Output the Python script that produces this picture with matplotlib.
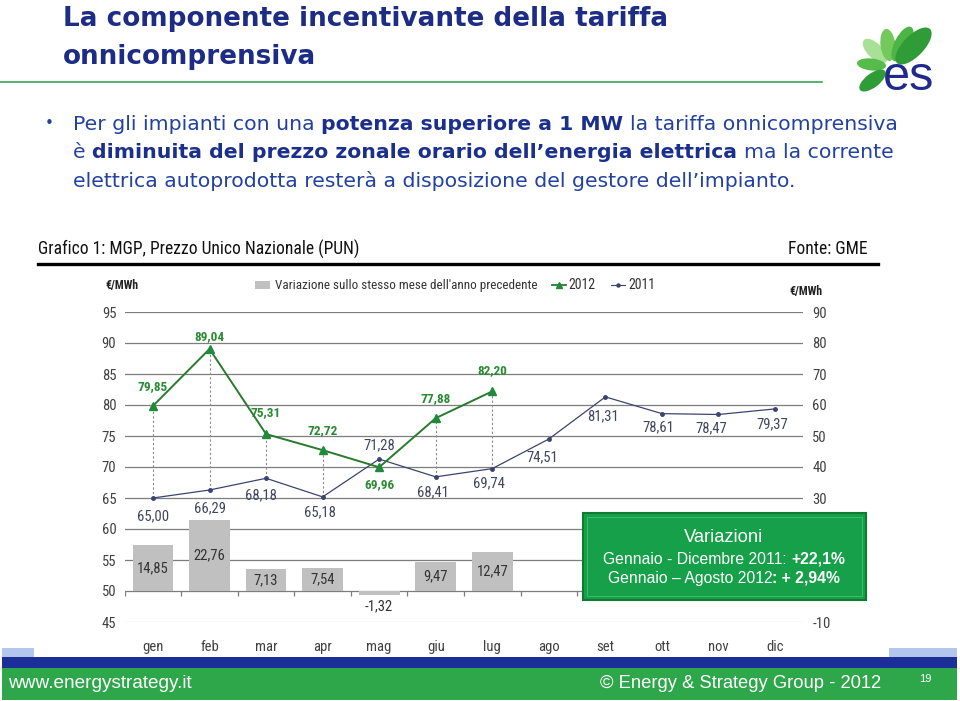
import math
import numpy as np
import matplotlib
matplotlib.use("Agg")
import matplotlib.pyplot as plt
from matplotlib.patches import Rectangle, Ellipse
from matplotlib.lines import Line2D

# ---- data (PUN, euro/MWh) ----
months = ["gen", "feb", "mar", "apr", "mag", "giu", "lug", "ago", "set", "ott", "nov", "dic"]
pun_2012 = [79.85, 89.04, 75.31, 72.72, 69.96, 77.88, 82.20]
pun_2011 = [65.00, 66.29, 68.18, 65.18, 71.28, 68.41, 69.74, 74.51, 81.31, 78.61, 78.47, 79.37]
variazione = [14.85, 22.76, 7.13, 7.54, -1.32, 9.47, 12.47]
left_ticks = list(range(45, 96, 5))
right_ticks = list(range(-10, 91, 10))
right_hidden = [0, 10, 20]  # covered by the summary box on the slide

# label offsets in pixels (dx, dy up)
off_2012 = [(0, 19), (0, 12), (0, 21), (0, 20), (0, -17), (0, 20), (0, 21)]
off_2011 = [(0, -18), (0, -18), (-5, -17), (-3, -15), (0, 14), (-3, -15), (-3, -15),
            (-7, -18), (-2, -19), (-4, -14), (-7, -14), (-3, -15)]

NARROW = ["Liberation Sans Narrow", "Roboto Condensed", "Liberation Sans", "DejaVu Sans"]
SANS = ["Liberation Sans", "DejaVu Sans"]
WIDE = ["DejaVu Sans"]
plt.rcParams["font.family"] = NARROW

W, H = 960, 701
PT = 72 / 100  # points per pixel


def fx(x):
    return x / W


def fy(y):
    return 1 - y / H


def fmt(v):
    return f"{v:.2f}".replace(".", ",")


fig = plt.figure(figsize=(9.6, 7.01), dpi=100)
renderer = fig.canvas.get_renderer()


def text_w(s, size, weight="normal", family=SANS):
    t = fig.text(0, 0, s, family=family, fontsize=size, fontweight=weight)
    w = t.get_window_extent(renderer).width
    t.remove()
    return w


def fit(s, target, weight="normal", family=SANS):
    return 10 * target / text_w(s, 10, weight, family)


# ---- header ----
title_col = "#1d2c84"
ts = fit("La componente incentivante della tariffa", 604, "bold", WIDE)
fig.text(fx(63), fy(19), "La componente incentivante della tariffa", family=WIDE,
         fontsize=ts, fontweight="bold", color=title_col, va="center")
fig.text(fx(63), fy(57), "onnicomprensiva", family=WIDE,
         fontsize=ts, fontweight="bold", color=title_col, va="center")
fig.add_artist(Line2D([fx(0), fx(822)], [fy(82), fy(82)], color="#3aa655", lw=1.2))

# logo
lax = fig.add_axes([fx(852), fy(100), 95 / W, 78 / H])
lax.set_xlim(852, 947)
lax.set_ylim(100, 22)
lax.axis("off")
leaves = [((886, 62), (864, 40), 15, "#a8e096"),
          ((890, 61), (886, 29), 15, "#74c95c"),
          ((894, 61), (911, 27), 16, "#4db446"),
          ((897, 63), (930, 29), 21, "#2f9c38"),
          ((886, 66), (857, 63), 12, "#55bb4a"),
          ((885, 71), (860, 90), 14, "#2f9c38")]
for (x0, y0), (x1, y1), th, c in leaves:
    ln = math.hypot(x1 - x0, y1 - y0)
    ang = math.degrees(math.atan2(y1 - y0, x1 - x0))
    lax.add_patch(Ellipse(((x0 + x1) / 2, (y0 + y1) / 2), ln, th, angle=ang, color=c, lw=0))
fig.text(fx(909), fy(78), "es", family=SANS, fontsize=35, color="#1f2a8c",
         ha="center", va="center", zorder=5)

# bullet text
body_col = "#2342a0"
bold_col = "#1b2f8c"
line1 = [("Per gli impianti con una", False), ("potenza superiore a 1 MW", True),
         ("la tariffa onnicomprensiva", False)]
line2 = [("è", False), ("diminuita del prezzo zonale orario dell\u2019energia elettrica", True),
         ("ma la corrente", False)]
line3 = [("elettrica autoprodotta resterà a disposizione del gestore dell\u2019impianto.", False)]


def rich_width(parts, size, family):
    sn = text_w("a a", size, "normal", family) - text_w("aa", size, "normal", family)
    sb = text_w("a a", size, "bold", family) - text_w("aa", size, "bold", family)
    total = 0
    gaps = []
    for s, bold in parts:
        total += text_w(s, size, "bold" if bold else "normal", family)
        gaps.append(sb if bold else sn)
    return total + sum(gaps[:-1]), gaps


def rich_line(x, y, parts, size, family, c_n, c_b, zorder=3, gaps=None):
    if gaps is None:
        gaps = rich_width(parts, size, family)[1]
    for (s, bold), g in zip(parts, gaps):
        wt = "bold" if bold else "normal"
        t = fig.text(fx(x), fy(y), s, family=family, fontsize=size, fontweight=wt,
                     color=c_b if bold else c_n, va="center", zorder=zorder)
        x += t.get_window_extent(renderer).width + g


bs = 10 * 822 / rich_width(line1, 10, WIDE)[0]
fig.text(fx(45), fy(123), "\u2022", family=WIDE, fontsize=11, color=body_col, va="center")
rich_line(73, 124, line1, bs, WIDE, body_col, bold_col)
rich_line(73, 152, line2, bs, WIDE, body_col, bold_col)
rich_line(73, 181, line3, bs, WIDE, body_col, bold_col)

# ---- chart frame ----
cs = fit("Grafico 1: MGP, Prezzo Unico Nazionale (PUN)", 320, family=NARROW)
fig.text(fx(38), fy(249), "Grafico 1: MGP, Prezzo Unico Nazionale (PUN)", fontsize=cs,
         color="#111111", va="center")
fig.text(fx(868), fy(249), "Fonte: GME", fontsize=cs, color="#111111", va="center", ha="right")
fig.add_artist(Line2D([fx(38), fx(878)], [fy(264), fy(264)], color="black", lw=2.4))

# legend
legend_txt = "Variazione sullo stesso mese dell'anno precedente"
fig.add_artist(Rectangle((fx(255), fy(289)), 15 / W, 8 / H, color="#c0c0c0", lw=0))
fig.text(fx(275), fy(285), legend_txt, fontsize=fit(legend_txt, 260, family=NARROW),
         color="#333333", va="center")
fig.add_artist(Line2D([fx(552), fx(566)], [fy(285), fy(285)], color="#2a7a2e", lw=1.3))
fig.add_artist(Line2D([fx(559)], [fy(285)], color="#1f8a3a", marker="^", ms=5, lw=0))
fig.text(fx(568), fy(285), "2012", fontsize=10, color="#333333", va="center")
fig.add_artist(Line2D([fx(611), fx(625)], [fy(285), fy(285)], color="#3b4470", lw=0.8))
fig.add_artist(Line2D([fx(618)], [fy(285)], color="#3b4470", marker="o", ms=2.2, lw=0))
fig.text(fx(628), fy(285), "2011", fontsize=10, color="#333333", va="center")
fig.text(fx(105), fy(286), "\u20ac/MWh", fontsize=8.5, fontweight="bold", color="#222222", va="center")
fig.text(fx(789), fy(292), "\u20ac/MWh", fontsize=8.5, fontweight="bold", color="#222222", va="center")

# ---- chart ----
x = np.arange(len(months))
n12 = len(pun_2012)
ax = fig.add_axes([fx(124.7), fy(622), (803.3 - 124.7) / W, 310 / H])
ax2 = ax.twinx()
ax.set_zorder(ax2.get_zorder() + 1)
ax.patch.set_visible(False)

ax.set_xlim(-0.5, 11.5)
ax.set_ylim(45, 95)
ax2.set_ylim(-10, 90)

ax2.bar(x[:n12], variazione, width=0.72, color="#c0c0c0", zorder=2)
ax2.set_yticks(right_ticks, ["" if t in right_hidden else str(t) for t in right_ticks])
ax2.yaxis.grid(True, color="#7d7d7d", lw=0.9)
ax2.get_ygridlines()[0].set_color("#c8c8c8")
ax2.set_axisbelow(True)
ax2.vlines(np.arange(-0.5, 12, 1), -1.6, 0, color="#7d7d7d", lw=0.9, zorder=1)

for i, v in enumerate(variazione):
    if v >= 0:
        ax2.text(x[i], v / 2, fmt(v), ha="center", va="center", fontsize=10.5, color="#333333")
    else:
        ax2.annotate(fmt(v), (x[i], v), xytext=(0, -11 * PT), textcoords="offset points",
                     ha="center", va="center", fontsize=10.5, color="#333333")

ax.vlines(x[:n12], pun_2011[:n12], pun_2012, colors="#8a8a8a", linestyles=(0, (2, 2)),
          lw=0.8, zorder=1)
ax.plot(x, pun_2011, color="#3b4470", lw=0.9, marker="o", ms=2.5, zorder=3)
ax.plot(x[:n12], pun_2012, color="#2a7a2e", lw=1.4, marker="^", ms=6,
        mfc="#1f8a3a", mec="#1f8a3a", zorder=4)

for i, v in enumerate(pun_2012):
    dx, dy = off_2012[i]
    ax.annotate(fmt(v), (x[i], v), xytext=(dx * PT, dy * PT), textcoords="offset points",
                ha="center", va="center", fontsize=9.5, fontweight="bold", color="#2a8a34")
for i, v in enumerate(pun_2011):
    dx, dy = off_2011[i]
    ax.annotate(fmt(v), (x[i], v), xytext=(dx * PT, dy * PT), textcoords="offset points",
                ha="center", va="center", fontsize=10.5, color="#3f4560")

ax.set_yticks(left_ticks)
ax.set_xticks(x, months)
ax.tick_params(axis="y", length=0, pad=6, labelsize=10.5, labelcolor="#404040")
ax.tick_params(axis="x", length=0, pad=13, labelsize=10.5, labelcolor="#404040")
ax2.tick_params(axis="y", length=0, pad=6.5, labelsize=10.5, labelcolor="#404040")
for a in (ax, ax2):
    for s in a.spines.values():
        s.set_visible(False)

# ---- summary box ----
fig.add_artist(Rectangle((fx(583), fy(600)), 283 / W, 87 / H, facecolor="#17a04a",
                         edgecolor="#0f7a33", lw=1.5, zorder=5))
fig.add_artist(Rectangle((fx(587), fy(596)), 275 / W, 79 / H, facecolor="none",
                         edgecolor="#3cbd67", lw=0.7, zorder=6))
fig.text(fx(724), fy(538), "Variazioni", family=SANS, fontsize=fit("Variazioni", 80),
         color="white", ha="center", va="center", zorder=7)
box1 = [("Gennaio - Dicembre 2011:", False), ("+22,1%", True)]
box2 = [("Gennaio \u2013 Agosto 2012", False), (": + 2,94%", True)]
bx_s = 10 * 242 / rich_width(box1, 10, SANS)[0]
w1 = rich_width(box1, bx_s, SANS)[0]
rich_line(724 - w1 / 2, 559, box1, bx_s, SANS, "white", "white", zorder=7)
w2 = rich_width(box2, bx_s, SANS)
w2 = w2[0] - w2[1][0]  # colon follows directly, no space
rich_line(724 - w2 / 2, 578, box2, bx_s, SANS, "white", "white", zorder=7, gaps=[0, 0])

# ---- footer ----
fig.add_artist(Rectangle((fx(2), fy(657)), 32 / W, 9 / H, color="#b3c6ee", lw=0))
fig.add_artist(Rectangle((fx(889), fy(657)), 68 / W, 9 / H, color="#b3c6ee", lw=0))
fig.add_artist(Rectangle((fx(2), fy(668)), 955 / W, 11 / H, color="#1c2f98", lw=0))
fig.add_artist(Rectangle((fx(2), fy(700)), 955 / W, 32 / H, color="#2ea64a", lw=0))
fig.text(fx(8), fy(684), "www.energystrategy.it", family=SANS,
         fontsize=fit("www.energystrategy.it", 185), color="white", va="center")
copy_txt = "\u00a9 Energy & Strategy Group - 2012"
fig.text(fx(881), fy(684), copy_txt, family=SANS, fontsize=fit(copy_txt, 282),
         color="white", va="center", ha="right")
fig.text(fx(925), fy(679), "19", family=SANS, fontsize=8, color="white", va="center", ha="center")

fig.savefig("out.png", dpi=100)
